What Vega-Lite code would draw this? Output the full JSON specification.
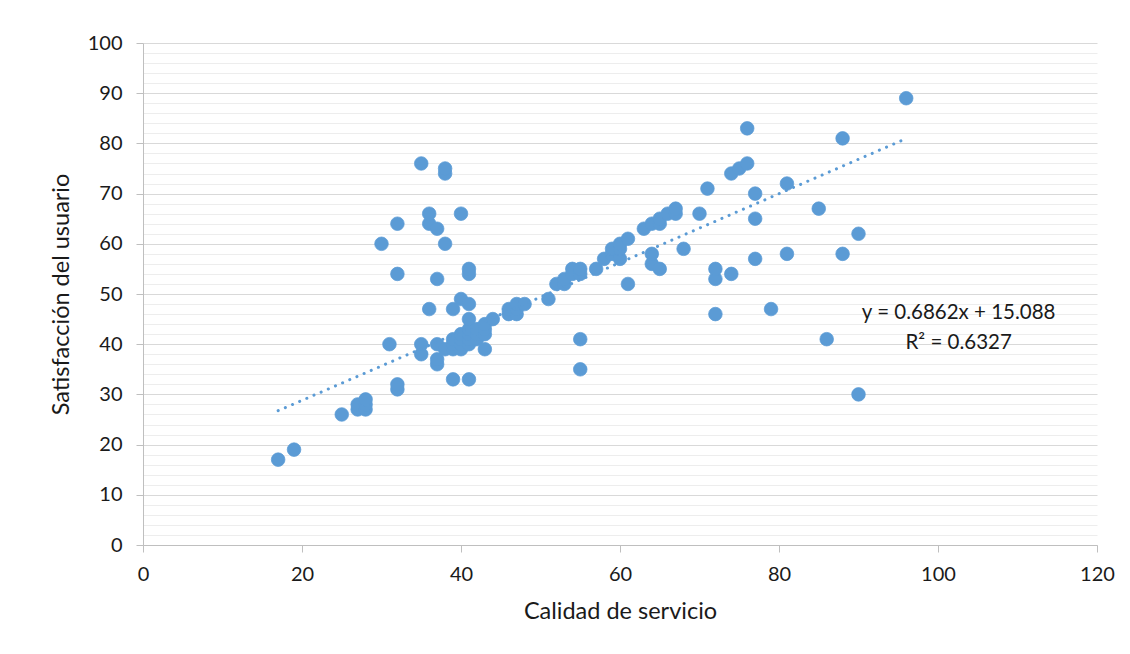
{
  "$schema": "https://vega.github.io/schema/vega-lite/v6.json",
  "autosize": "none",
  "width": 954,
  "height": 502,
  "padding": {"left": 143, "top": 43, "right": 33, "bottom": 109},
  "background": "white",
  "config": {
    "view": {"stroke": null},
    "font": "Lato",
    "axis": {"labelFont": "Lato", "titleFont": "Lato", "labelColor": "#1a1a1a", "titleColor": "#1a1a1a", "titleFontWeight": "normal"}
  },
  "datasets": {
    "points": [
      {"calidad": 17, "satisfaccion": 17}, {"calidad": 19, "satisfaccion": 19}, {"calidad": 25, "satisfaccion": 26},
      {"calidad": 27, "satisfaccion": 27}, {"calidad": 27, "satisfaccion": 28}, {"calidad": 28, "satisfaccion": 27},
      {"calidad": 28, "satisfaccion": 28}, {"calidad": 28, "satisfaccion": 29}, {"calidad": 30, "satisfaccion": 60},
      {"calidad": 31, "satisfaccion": 40}, {"calidad": 32, "satisfaccion": 31}, {"calidad": 32, "satisfaccion": 32},
      {"calidad": 32, "satisfaccion": 54}, {"calidad": 32, "satisfaccion": 64}, {"calidad": 35, "satisfaccion": 38},
      {"calidad": 35, "satisfaccion": 40}, {"calidad": 35, "satisfaccion": 76}, {"calidad": 36, "satisfaccion": 47},
      {"calidad": 36, "satisfaccion": 64}, {"calidad": 36, "satisfaccion": 66}, {"calidad": 37, "satisfaccion": 36},
      {"calidad": 37, "satisfaccion": 37}, {"calidad": 37, "satisfaccion": 40}, {"calidad": 37, "satisfaccion": 53},
      {"calidad": 37, "satisfaccion": 63}, {"calidad": 38, "satisfaccion": 39}, {"calidad": 38, "satisfaccion": 60},
      {"calidad": 38, "satisfaccion": 74}, {"calidad": 38, "satisfaccion": 75}, {"calidad": 39, "satisfaccion": 33},
      {"calidad": 39, "satisfaccion": 39}, {"calidad": 39, "satisfaccion": 40}, {"calidad": 39, "satisfaccion": 41},
      {"calidad": 39, "satisfaccion": 47}, {"calidad": 40, "satisfaccion": 39}, {"calidad": 40, "satisfaccion": 40},
      {"calidad": 40, "satisfaccion": 41}, {"calidad": 40, "satisfaccion": 42}, {"calidad": 40, "satisfaccion": 49},
      {"calidad": 40, "satisfaccion": 66}, {"calidad": 41, "satisfaccion": 33}, {"calidad": 41, "satisfaccion": 40},
      {"calidad": 41, "satisfaccion": 41}, {"calidad": 41, "satisfaccion": 42}, {"calidad": 41, "satisfaccion": 43},
      {"calidad": 41, "satisfaccion": 45}, {"calidad": 41, "satisfaccion": 48}, {"calidad": 41, "satisfaccion": 54},
      {"calidad": 41, "satisfaccion": 55}, {"calidad": 42, "satisfaccion": 41}, {"calidad": 42, "satisfaccion": 42},
      {"calidad": 42, "satisfaccion": 43}, {"calidad": 43, "satisfaccion": 39}, {"calidad": 43, "satisfaccion": 42},
      {"calidad": 43, "satisfaccion": 43}, {"calidad": 43, "satisfaccion": 44}, {"calidad": 44, "satisfaccion": 45},
      {"calidad": 46, "satisfaccion": 46}, {"calidad": 46, "satisfaccion": 47}, {"calidad": 47, "satisfaccion": 46},
      {"calidad": 47, "satisfaccion": 47}, {"calidad": 47, "satisfaccion": 48}, {"calidad": 48, "satisfaccion": 48},
      {"calidad": 51, "satisfaccion": 49}, {"calidad": 52, "satisfaccion": 52}, {"calidad": 53, "satisfaccion": 52},
      {"calidad": 53, "satisfaccion": 53}, {"calidad": 54, "satisfaccion": 54}, {"calidad": 54, "satisfaccion": 55},
      {"calidad": 55, "satisfaccion": 35}, {"calidad": 55, "satisfaccion": 41}, {"calidad": 55, "satisfaccion": 54},
      {"calidad": 55, "satisfaccion": 55}, {"calidad": 57, "satisfaccion": 55}, {"calidad": 58, "satisfaccion": 57},
      {"calidad": 59, "satisfaccion": 58}, {"calidad": 59, "satisfaccion": 59}, {"calidad": 60, "satisfaccion": 57},
      {"calidad": 60, "satisfaccion": 59}, {"calidad": 60, "satisfaccion": 60}, {"calidad": 61, "satisfaccion": 52},
      {"calidad": 61, "satisfaccion": 61}, {"calidad": 63, "satisfaccion": 63}, {"calidad": 64, "satisfaccion": 56},
      {"calidad": 64, "satisfaccion": 58}, {"calidad": 64, "satisfaccion": 64}, {"calidad": 65, "satisfaccion": 55},
      {"calidad": 65, "satisfaccion": 64}, {"calidad": 65, "satisfaccion": 65}, {"calidad": 66, "satisfaccion": 66},
      {"calidad": 67, "satisfaccion": 66}, {"calidad": 67, "satisfaccion": 67}, {"calidad": 68, "satisfaccion": 59},
      {"calidad": 70, "satisfaccion": 66}, {"calidad": 71, "satisfaccion": 71}, {"calidad": 72, "satisfaccion": 46},
      {"calidad": 72, "satisfaccion": 53}, {"calidad": 72, "satisfaccion": 55}, {"calidad": 74, "satisfaccion": 54},
      {"calidad": 74, "satisfaccion": 74}, {"calidad": 75, "satisfaccion": 75}, {"calidad": 76, "satisfaccion": 76},
      {"calidad": 76, "satisfaccion": 83}, {"calidad": 77, "satisfaccion": 57}, {"calidad": 77, "satisfaccion": 65},
      {"calidad": 77, "satisfaccion": 70}, {"calidad": 79, "satisfaccion": 47}, {"calidad": 81, "satisfaccion": 58},
      {"calidad": 81, "satisfaccion": 72}, {"calidad": 85, "satisfaccion": 67}, {"calidad": 86, "satisfaccion": 41},
      {"calidad": 88, "satisfaccion": 58}, {"calidad": 88, "satisfaccion": 81}, {"calidad": 90, "satisfaccion": 30},
      {"calidad": 90, "satisfaccion": 62}, {"calidad": 96, "satisfaccion": 89}
    ],
    "trend": [
      {"calidad": 17, "satisfaccion": 26.75},
      {"calidad": 96, "satisfaccion": 80.96}
    ]
  },
  "layer": [
    {
      "data": {"name": "points"},
      "mark": {"type": "circle", "size": 185, "color": "#5B9BD5", "opacity": 1, "stroke": "#5B9BD5", "strokeWidth": 0.75},
      "encoding": {
        "x": {
          "field": "calidad", "type": "quantitative",
          "scale": {"domain": [0, 120], "nice": false, "zero": true},
          "axis": {
            "title": "Calidad de servicio", "titleFontSize": 23.5, "titlePadding": 15,
            "values": [0, 20, 40, 60, 80, 100, 120], "tickCount": 100, "format": "d",
            "grid": false, "domainColor": "#BFBFBF", "domainWidth": 1,
            "tickColor": "#BFBFBF", "tickSize": 7, "labelFontSize": 20, "labelPadding": 12,
            "labelOverlap": false, "labelFlush": false
          }
        },
        "y": {
          "field": "satisfaccion", "type": "quantitative",
          "scale": {"domain": [0, 100], "nice": false},
          "axis": {
            "title": "Satisfacción del usuario", "titleFontSize": 23.5, "titlePadding": 14,
            "values": [0, 2, 4, 6, 8, 10, 12, 14, 16, 18, 20, 22, 24, 26, 28, 30, 32, 34, 36, 38, 40, 42, 44, 46, 48, 50, 52, 54, 56, 58, 60, 62, 64, 66, 68, 70, 72, 74, 76, 78, 80, 82, 84, 86, 88, 90, 92, 94, 96, 98, 100],
            "tickCount": 200, "format": "d",
            "labelExpr": "datum.value % 10 === 0 ? datum.label : ''",
            "labelOverlap": false, "labelFlush": false,
            "grid": true,
            "gridColor": {"condition": {"test": "datum.value % 10 === 0", "value": "#D9D9D9"}, "value": "#EDEDED"},
            "gridWidth": 1,
            "tickOpacity": {"condition": {"test": "datum.value % 10 === 0", "value": 1}, "value": 0},
            "domainColor": "#BFBFBF", "tickColor": "#BFBFBF", "tickSize": 7,
            "labelFontSize": 20, "labelPadding": 14
          }
        }
      }
    },
    {
      "data": {"name": "trend"},
      "mark": {"type": "line", "color": "#5B9BD5", "strokeWidth": 3, "strokeCap": "round", "strokeDash": [0.1, 7.7]},
      "encoding": {
        "x": {"field": "calidad", "type": "quantitative"},
        "y": {"field": "satisfaccion", "type": "quantitative"}
      }
    },
    {
      "data": {"values": [{}]},
      "mark": {"type": "text", "text": ["y = 0.6862x + 15.088", "R² = 0.6327"], "fontSize": 20.5, "font": "Lato", "color": "#1a1a1a", "align": "center", "baseline": "middle", "lineHeight": 30},
      "encoding": {
        "x": {"datum": 102.6, "type": "quantitative"},
        "y": {"datum": 46.2, "type": "quantitative"}
      }
    }
  ]
}
